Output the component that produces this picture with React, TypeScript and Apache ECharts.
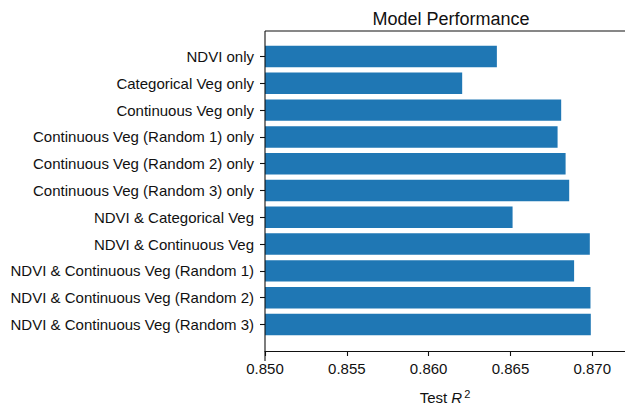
import React, { useEffect, useRef } from "react";
import * as echarts from "echarts";

const categories = [
  "NDVI only",
  "Categorical Veg only",
  "Continuous Veg only",
  "Continuous Veg (Random 1) only",
  "Continuous Veg (Random 2) only",
  "Continuous Veg (Random 3) only",
  "NDVI & Categorical Veg",
  "NDVI & Continuous Veg",
  "NDVI & Continuous Veg (Random 1)",
  "NDVI & Continuous Veg (Random 2)",
  "NDVI & Continuous Veg (Random 3)",
];
const values = [
  0.86417, 0.86205, 0.8681, 0.86788, 0.86837, 0.86859, 0.86513, 0.86985, 0.86889, 0.86989,
  0.86991,
];
const xMin = 0.85;
const xMax = 0.872;
const xInterval = 0.005;

const FONT = "'Liberation Sans', Arial, sans-serif";

export default function App() {
  const ref = useRef<HTMLDivElement>(null);
  useEffect(() => {
    const chart = echarts.init(ref.current!, undefined, { renderer: "svg" });
    const left = 265;
    const frameTop = 31;
    const frameBottom = 361;
    const band = 27.7;
    const gridTop = 57 - band / 2;
    const gridHeight = band * categories.length;
    const gridBottomY = gridTop + gridHeight;
    const axisColor = "#111";
    chart.setOption({
      animation: false,
      title: {
        text: "Model Performance",
        left: 446,
        textAlign: "center",
        top: 5,
        textStyle: { fontFamily: FONT, fontSize: 18, fontWeight: "normal", color: "#111" },
      },
      grid: {
        left: left,
        top: gridTop,
        height: gridHeight,
        right: -2,
        containLabel: false,
      },
      xAxis: {
        type: "value",
        min: xMin,
        max: xMax,
        interval: xInterval,
        offset: frameBottom - gridBottomY,
        axisLine: { show: true, lineStyle: { color: axisColor, width: 1.1 } },
        axisTick: { show: true, length: 5, lineStyle: { color: axisColor, width: 1.1 } },
        splitLine: { show: false },
        axisLabel: {
          fontFamily: FONT,
          fontSize: 15,
          color: "#111",
          margin: 10,
          formatter: (v: number) => v.toFixed(3),
        },
        name: "{n|Test }{i|R}{s|2}",
        nameLocation: "middle",
        nameGap: 37,
        nameTextStyle: {
          rich: {
            n: { fontFamily: FONT, fontSize: 15, color: "#111" },
            i: { fontFamily: FONT, fontSize: 15, fontStyle: "italic", color: "#111" },
            s: { fontFamily: FONT, fontSize: 11, color: "#111", verticalAlign: "top", padding: [0, 0, 8, 2] },
          },
        },
      },
      yAxis: {
        type: "category",
        data: categories,
        inverse: true,
        axisLine: { show: false },
        axisTick: { show: true, alignWithLabel: true, length: 5, lineStyle: { color: axisColor, width: 1.1 } },
        axisLabel: { fontFamily: FONT, fontSize: 15, color: "#111", margin: 11 },
      },
      series: [
        {
          type: "bar",
          data: values,
          barWidth: "80%",
          itemStyle: { color: "#1f77b4" },
        },
      ],
      graphic: [
        {
          type: "line",
          shape: { x1: left, y1: frameTop, x2: left, y2: frameBottom },
          style: { stroke: axisColor, lineWidth: 1.1 },
          z: 10,
        },
        {
          type: "line",
          shape: { x1: left, y1: frameTop, x2: 640, y2: frameTop },
          style: { stroke: axisColor, lineWidth: 1.1 },
          z: 10,
        },
      ],
    });
    return () => chart.dispose();
  }, []);
  return <div ref={ref} style={{ width: 625, height: 410, position: "absolute", left: 0, top: 0 }} />;
}
